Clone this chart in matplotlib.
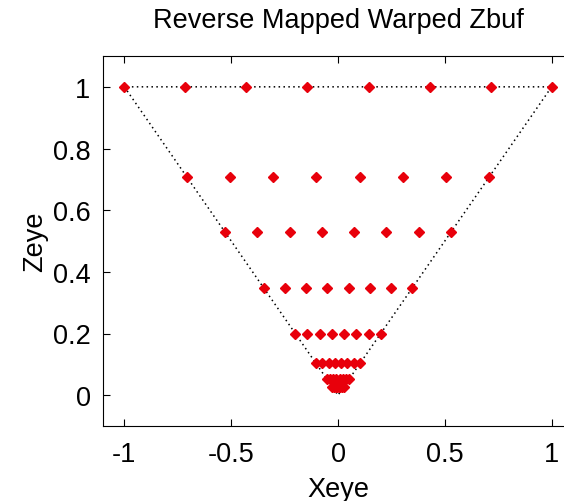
import numpy as np
import matplotlib
matplotlib.use("Agg")
import matplotlib.pyplot as plt

plt.rcParams['font.family'] = ['Liberation Sans', 'DejaVu Sans']

# depth rows (Zeye) of the sample grid; each row has 8 points spanning -z..z
row_z = [1.0, 0.706, 0.529, 0.347, 0.200, 0.103, 0.053, 0.027]
points_per_row = 8
xticks = [-1, -0.5, 0, 0.5, 1]
xtick_labels = ['-1', '-0.5', '0', '0.5', '1']
yticks = [0, 0.2, 0.4, 0.6, 0.8, 1]
ytick_labels = ['0', '0.2', '0.4', '0.6', '0.8', '1']
frustum_x = [-1, 0, 1, -1]
frustum_z = [1, 0, 1, 1]

fig = plt.figure(figsize=(5.64, 5.02), dpi=100)
ax = fig.add_axes([103/564, 75/502, 470/564, 370/502])

ax.plot(frustum_x, frustum_z, linestyle=(0, (1, 2.2)), color='black', linewidth=1.1)

xs, zs = [], []
for z in row_z:
    for i in range(points_per_row):
        xs.append(-z + 2 * z * i / (points_per_row - 1))
        zs.append(z)
ax.plot(xs, zs, linestyle='none', marker='D', markersize=4.8, color='#e8000b',
        markeredgecolor='#e8000b')

ax.set_xlim(-1.1, 1.1)
ax.set_ylim(-0.1, 1.1)
ax.set_xticks(xticks)
ax.set_xticklabels(xtick_labels)
ax.set_yticks(yticks)
ax.set_yticklabels(ytick_labels)
ax.tick_params(direction='in', length=5, width=0.8, labelsize=19.5,
               top=True, right=True, pad=9)
ax.tick_params(axis='x', pad=11)
for s in ax.spines.values():
    s.set_linewidth(0.8)
ax.set_xlabel('Xeye', fontsize=19.5, labelpad=6)
ax.set_ylabel('Zeye', fontsize=19.5, labelpad=3)
ax.set_title('Reverse Mapped Warped Zbuf', fontsize=19.5, pad=21)

fig.savefig('out.png', dpi=100)
